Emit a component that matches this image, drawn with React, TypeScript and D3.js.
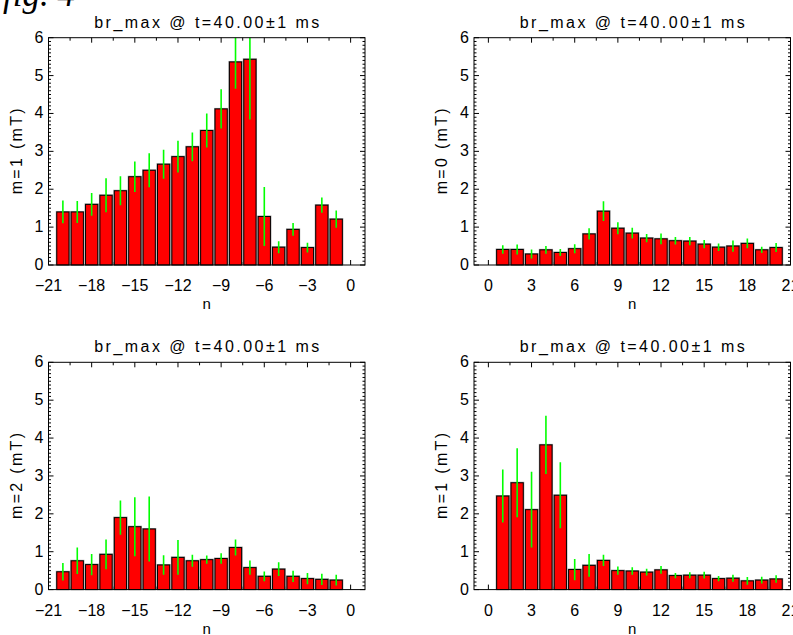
import React from "react";
import * as d3 from "d3";

// mode numbers
const nNeg = [-20, -19, -18, -17, -16, -15, -14, -13, -12, -11, -10, -9, -8, -7, -6, -5, -4, -3, -2, -1];
const nPos = [1, 2, 3, 4, 5, 6, 7, 8, 9, 10, 11, 12, 13, 14, 15, 16, 17, 18, 19, 20];

// br_max (mT) and error half-widths
const m1NegVal = [1.4, 1.4, 1.6, 1.84, 1.96, 2.33, 2.5, 2.66, 2.86, 3.12, 3.55, 4.12, 5.36, 5.43, 1.28, 0.47, 0.94, 0.46, 1.58, 1.21];
const m1NegErr = [0.3, 0.29, 0.3, 0.45, 0.38, 0.4, 0.45, 0.38, 0.42, 0.38, 0.45, 0.52, 0.71, 1.59, 0.78, 0.16, 0.17, 0.13, 0.2, 0.23];

const m0PosVal = [0.41, 0.41, 0.29, 0.4, 0.33, 0.43, 0.82, 1.42, 0.97, 0.84, 0.71, 0.69, 0.64, 0.63, 0.55, 0.47, 0.5, 0.57, 0.4, 0.46];
const m0PosErr = [0.11, 0.13, 0.12, 0.1, 0.09, 0.12, 0.15, 0.26, 0.16, 0.14, 0.11, 0.14, 0.1, 0.11, 0.11, 0.1, 0.15, 0.13, 0.08, 0.12];

const m2NegVal = [0.47, 0.76, 0.66, 0.93, 1.9, 1.66, 1.6, 0.65, 0.85, 0.76, 0.79, 0.82, 1.11, 0.58, 0.35, 0.54, 0.35, 0.29, 0.27, 0.25];
const m2NegErr = [0.23, 0.35, 0.28, 0.39, 0.45, 0.78, 0.86, 0.26, 0.46, 0.16, 0.11, 0.14, 0.21, 0.19, 0.13, 0.18, 0.15, 0.15, 0.15, 0.14];

const m1PosVal = [2.47, 2.82, 2.11, 3.82, 2.49, 0.53, 0.64, 0.77, 0.5, 0.49, 0.46, 0.52, 0.37, 0.38, 0.38, 0.29, 0.3, 0.23, 0.25, 0.28];
const m1PosErr = [0.7, 0.91, 1.0, 0.77, 0.87, 0.28, 0.3, 0.15, 0.11, 0.1, 0.09, 0.1, 0.07, 0.08, 0.09, 0.07, 0.09, 0.1, 0.09, 0.1];

const xTicksNeg = [-21, -18, -15, -12, -9, -6, -3, 0];
const xTicksPos = [0, 3, 6, 9, 12, 15, 18, 21];
const yTicks = [0, 1, 2, 3, 4, 5, 6];

const title = "br_max @ t=40.00\u00b11 ms";
const font = "'Liberation Sans', Arial, sans-serif";
const fmt = d3.format("d");

type PanelProps = {
  id: string;
  left: number;
  top: number;
  w: number;
  h: number;
  domain: [number, number];
  ns: number[];
  vals: number[];
  errs: number[];
  xticks: number[];
  ylabel: string;
};

const Panel = ({ id, left, top, w, h, domain, ns, vals, errs, xticks, ylabel }: PanelProps) => {
  const x = d3.scaleLinear().domain(domain).range([0, w]);
  const y = d3.scaleLinear().domain([0, 6]).range([h, 0]);
  const bw = x(0.85) - x(0);

  // minor ticks
  const yMinor = d3.range(0, 60).map((i) => i / 10).filter((v) => Math.abs(v - Math.round(v)) > 1e-6);
  const xMinor = xticks.slice(0, -1).map((t) => t + 1.5);

  return (
    <g transform={`translate(${left},${top})`}>
      <defs>
        <clipPath id={id}>
          <rect x={0} y={0} width={w} height={h} />
        </clipPath>
      </defs>
      <text x={w / 2} y={-10} textAnchor="middle" fontSize={16} fontFamily={font} textLength={225} lengthAdjust="spacing">
        {title}
      </text>

      {/* y ticks, left and right */}
      {yTicks.map((t) => (
        <g key={"y" + t}>
          <line x1={0} x2={5} y1={y(t)} y2={y(t)} stroke="#000" />
          <line x1={w} x2={w - 5} y1={y(t)} y2={y(t)} stroke="#000" />
          <text x={-5} y={y(t) + 5} textAnchor="end" fontSize={16} fontFamily={font}>
            {t}
          </text>
        </g>
      ))}
      {yMinor.map((t) => (
        <g key={"ym" + t}>
          <line x1={0} x2={2.5} y1={y(t)} y2={y(t)} stroke="#000" />
          <line x1={w} x2={w - 2.5} y1={y(t)} y2={y(t)} stroke="#000" />
        </g>
      ))}

      {/* x ticks, bottom and top */}
      {xticks.map((t) => (
        <g key={"x" + t}>
          <line x1={x(t)} x2={x(t)} y1={h} y2={h - 5} stroke="#000" />
          <line x1={x(t)} x2={x(t)} y1={0} y2={5} stroke="#000" />
          <text x={x(t)} y={h + 26} textAnchor="middle" fontSize={16} fontFamily={font}>
            {fmt(t)}
          </text>
        </g>
      ))}
      {xMinor.map((t) => (
        <g key={"xm" + t}>
          <line x1={x(t)} x2={x(t)} y1={h} y2={h - 3} stroke="#000" />
          <line x1={x(t)} x2={x(t)} y1={0} y2={3} stroke="#000" />
        </g>
      ))}

      {/* bars */}
      {ns.map((n, i) => (
        <g key={"b" + n}>
          <rect x={x(n) - bw / 2 - 1} y={y(vals[i]) - 1} width={bw + 2} height={h - y(vals[i]) + 1} fill="#9a9a9a" />
          <rect x={x(n) - bw / 2} y={y(vals[i])} width={bw} height={h - y(vals[i])} fill="#ff0000" stroke="#000" strokeWidth={1} />
        </g>
      ))}

      {/* error bars */}
      <g clipPath={`url(#${id})`}>
        {ns.map((n, i) => (
          <line
            key={"e" + n}
            x1={x(n)}
            x2={x(n)}
            y1={y(vals[i] + errs[i])}
            y2={y(Math.max(0, vals[i] - errs[i]))}
            stroke="#00ff00"
            strokeWidth={1.6}
          />
        ))}
      </g>

      <rect x={0} y={0} width={w} height={h} fill="none" stroke="#000" strokeWidth={1} />

      <text x={w / 2} y={h + 44} textAnchor="middle" fontSize={15} fontFamily={font}>
        n
      </text>
      <text
        transform={`translate(${-27},${h / 2}) rotate(-90)`}
        textAnchor="middle"
        fontSize={16}
        fontFamily={font}
        textLength={86}
        lengthAdjust="spacing"
      >
        {ylabel}
      </text>
    </g>
  );
};

export default function App() {
  const w = 316.5;
  const h = 227.3;
  return (
    <div style={{ position: "absolute", left: 0, top: 0 }}>
      <svg width={793} height={635} style={{ display: "block", background: "#fff" }}>
        <text x={3} y={6} fontSize={35} fontStyle="italic" fontFamily="'Liberation Serif', 'Times New Roman', serif">
          fig. 4
        </text>
        <Panel id="c1" left={48.5} top={37.7} w={w} h={h} domain={[-21, 1]} ns={nNeg} vals={m1NegVal} errs={m1NegErr} xticks={xTicksNeg} ylabel="m=1  (mT)" />
        <Panel id="c2" left={474} top={37.7} w={w} h={h} domain={[-1, 21]} ns={nPos} vals={m0PosVal} errs={m0PosErr} xticks={xTicksPos} ylabel="m=0  (mT)" />
        <Panel id="c3" left={48.5} top={362.3} w={w} h={h} domain={[-21, 1]} ns={nNeg} vals={m2NegVal} errs={m2NegErr} xticks={xTicksNeg} ylabel="m=2  (mT)" />
        <Panel id="c4" left={474} top={362.3} w={w} h={h} domain={[-1, 21]} ns={nPos} vals={m1PosVal} errs={m1PosErr} xticks={xTicksPos} ylabel="m=1  (mT)" />
      </svg>
    </div>
  );
}
